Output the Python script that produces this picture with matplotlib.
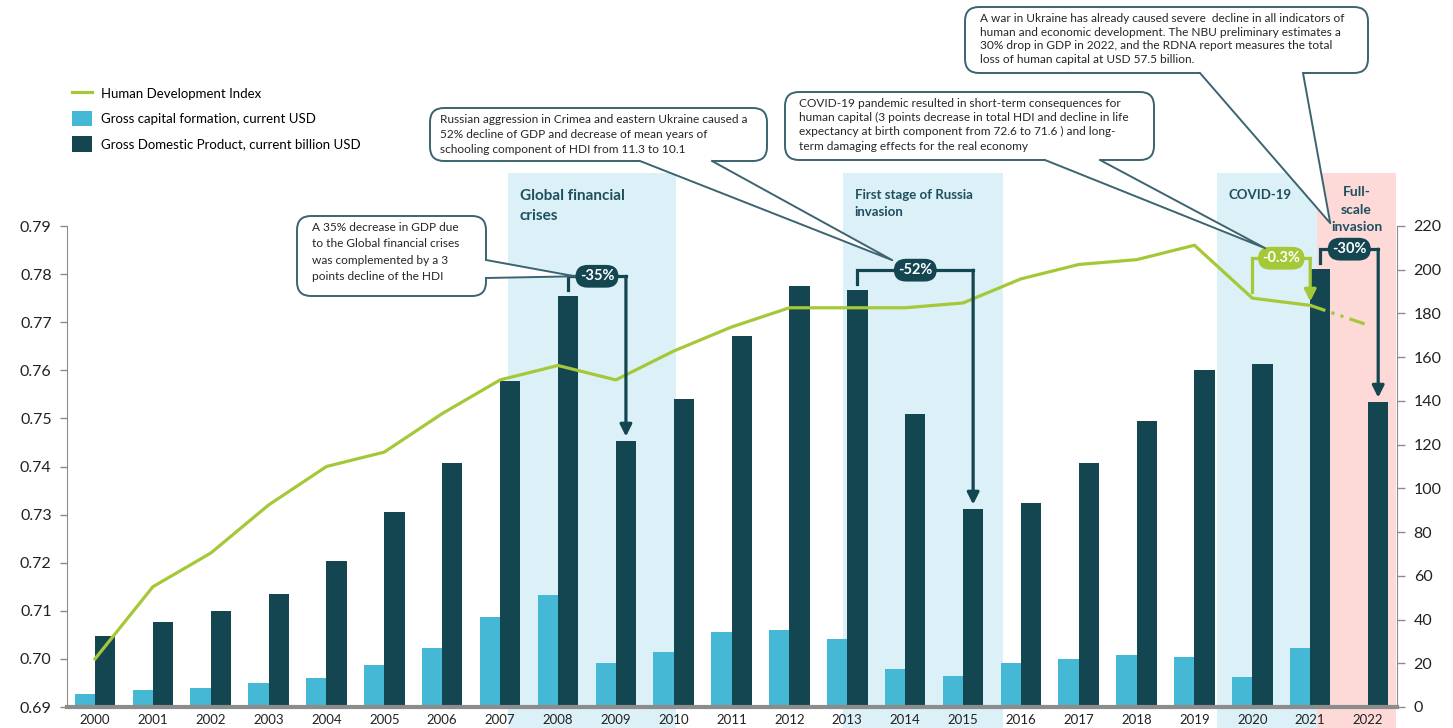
import numpy as np
import matplotlib
matplotlib.use("Agg")
import matplotlib.pyplot as plt
from matplotlib.patches import Rectangle, FancyBboxPatch, Polygon, Patch
from matplotlib.lines import Line2D
from matplotlib.transforms import blended_transform_factory, IdentityTransform

plt.rcParams['font.family'] = ['Lato', 'DejaVu Sans']

# ---- data ----
years = list(range(2000, 2023))
hdi = [0.700, 0.715, 0.722, 0.732, 0.740, 0.743, 0.751, 0.758, 0.761, 0.758,
       0.764, 0.769, 0.773, 0.773, 0.773, 0.774, 0.779, 0.782, 0.783, 0.786,
       0.775, 0.7735]
hdi_2022_est = 0.7694
gcf = [5.9, 7.8, 8.7, 11.0, 13.3, 19.2, 27.0, 41.2, 51.2, 20.1, 25.2, 34.3,
       35.2, 31.1, 17.4, 14.2, 20.1, 22.0, 23.8, 22.9, 13.7, 27.0, np.nan]
gdp = [32.5, 38.9, 43.9, 51.7, 66.8, 89.2, 111.6, 149.1, 188.0, 121.7, 140.9,
       169.7, 192.5, 190.8, 134.0, 90.6, 93.3, 111.6, 130.8, 154.2, 156.9,
       200.4, 139.5]

# shaded periods: label, start, end (in year units)
periods = [
    ("Global financial\ncrises", 2007.14, 2010.04),
    ("First stage of Russia\ninvasion", 2012.93, 2015.69),
    ("COVID-19", 2019.39, 2021.11),
    ("Full-\nscale\ninvasion", 2021.11, 2022.49),
]
# GDP drops and HDI drop
gdp_drops = [("-35%", 2008, 2009), ("-52%", 2013, 2015), ("-30%", 2021, 2022)]
hdi_drop = ("-0.3%", 2020, 2021)

notes = [
    "A 35% decrease in GDP due\nto the Global financial crises\nwas complemented by a 3\npoints decline of the HDI",
    "Russian aggression in Crimea and eastern Ukraine caused a\n52% decline of GDP and decrease of mean years of\nschooling component of HDI from 11.3 to 10.1",
    "COVID-19 pandemic resulted in short-term consequences for\nhuman capital (3 points decrease in total HDI and decline in life\nexpectancy at birth component from 72.6 to 71.6 ) and long-\nterm damaging effects for the real economy",
    "A war in Ukraine has already caused severe  decline in all indicators of\nhuman and economic development. The NBU preliminary estimates a\n30% drop in GDP in 2022, and the RDNA report measures the total\nloss of human capital at USD 57.5 billion.",
]

GREEN = '#a5c838'
LIGHT = '#45b8d6'
DARK = '#144652'
SHADE = '#dbf0f7'
PINK = '#fdd9d7'
TXT = '#1f4f5e'
EDGE = '#3b6470'
W, H = 1453, 728

fig = plt.figure(figsize=(W / 100, H / 100), dpi=100)
ax = fig.add_axes([67 / W, 1 - 707 / H, (1397 - 67) / W, (707 - 226) / H])
axb = ax.twinx()
ax.set_zorder(2)
axb.set_zorder(1)
ax.patch.set_visible(False)

x = np.arange(len(years)) + years[0]
bw = 0.35
axb.bar(x - bw / 2, gcf, bw, color=LIGHT, zorder=2)
axb.bar(x + bw / 2, gdp, bw, color=DARK, zorder=2)

ax.plot(x[:len(hdi)], hdi, color=GREEN, lw=2.3, zorder=3)
ax.plot([x[len(hdi) - 1], x[-1]], [hdi[-1], hdi_2022_est], color=GREEN, lw=2.3,
        ls=(0, (5, 2, 1, 2, 1, 2)), zorder=3)

ax.set_xlim(years[0] - 0.484, years[-1] + 0.50)
ax.set_ylim(0.69, 0.79)
axb.set_ylim(0, 220)
ax.set_yticks(np.arange(0.69, 0.7901, 0.01))
ax.set_yticklabels([f"{v:.2f}" for v in np.arange(0.69, 0.7901, 0.01)])
axb.set_yticks(range(0, 221, 20))
ax.set_xticks(x)
ax.set_xticklabels([str(y) for y in years], fontsize=9.5, color='#222222')
ax.tick_params(axis='x', length=0, pad=5)
ax.tick_params(axis='y', labelsize=11.5, colors='#222222', length=5, width=1, pad=6)
axb.tick_params(axis='y', labelsize=11.5, colors='#222222', length=6, width=1, pad=6)
for a in (ax, axb):
    a.tick_params(axis='y', color='#8c8c8c')
    a.spines['top'].set_visible(False)
ax.spines['right'].set_visible(False)
ax.spines['left'].set_color('#8c8c8c')
ax.spines['bottom'].set_color('#8c8c8c')
ax.spines['bottom'].set_linewidth(3)
axb.spines['left'].set_visible(False)
axb.spines['bottom'].set_visible(False)
axb.spines['right'].set_color('#8c8c8c')

# shaded periods
tr_span = blended_transform_factory(axb.transData, axb.transAxes)
tr_lab = blended_transform_factory(ax.transData, ax.transAxes)
lab_size = [11, 9.5, 9.5, 10]
lab_y = [1.076, 1.076, 1.076, 1.083]
for i, (lab, s, e) in enumerate(periods):
    axb.add_patch(Rectangle((s, -0.045), e - s, 1.155, transform=tr_span,
                            fc=PINK if i == 3 else SHADE, ec='none', zorder=0, clip_on=False))
    if i == 3:
        ax.text((s + e) / 2, lab_y[i], lab, transform=tr_lab, ha='center', va='top',
                fontsize=lab_size[i], fontweight='bold', color=TXT, linespacing=1.55)
    else:
        ax.text(s + 0.2, lab_y[i], lab, transform=tr_lab, ha='left', va='top',
                fontsize=lab_size[i], fontweight='bold', color=TXT, linespacing=1.5)

# drop brackets
def bracket(axis_tr, xa, xb, top, start, tip, color, label):
    ax.plot([xa, xa, xb], [start, top, top], color=color, lw=2.3, transform=axis_tr,
            clip_on=False, zorder=5, solid_joinstyle='miter')
    ax.annotate('', xy=(xb, tip), xytext=(xb, top), xycoords=axis_tr, textcoords=axis_tr,
                arrowprops=dict(arrowstyle='-|>,head_length=0.7,head_width=0.35', color=color,
                                lw=2.3, shrinkA=0, shrinkB=0), zorder=5, annotation_clip=False)
    ax.text((xa + xb) / 2, top, label, transform=axis_tr, ha='center', va='center',
            fontsize=10.5, fontweight='bold', color='white', zorder=6, clip_on=False,
            bbox=dict(boxstyle='round,pad=0.3,rounding_size=0.85', fc=color, ec='none'))
    return (xa + xb) / 2, top

badge_pos = []
for lab, y1, y2 in gdp_drops:
    i1, i2 = years.index(y1), years.index(y2)
    badge_pos.append(bracket(axb.transData, y1 + bw / 2, y2 + bw / 2,
                             gdp[i1] + 9, gdp[i1] + 2.5, gdp[i2] + 2, DARK, lab))
lab, y1, y2 = hdi_drop
i1, i2 = years.index(y1), years.index(y2)
hdi_badge = bracket(ax.transData, y1, y2, hdi[i1] + 0.0083, hdi[i1] + 0.0013,
                    hdi[i2] + 0.0008, GREEN, lab)

# callouts (pixel layout, origin top-left)
tr = IdentityTransform()

def callout(x0, y0, x1, y1, b1, b2, inward, tip, text, lsp, tx):
    fig.add_artist(FancyBboxPatch((x0, H - y1), x1 - x0, y1 - y0,
                                  boxstyle='round,pad=0,rounding_size=14', fc='white',
                                  ec=EDGE, lw=1.4, transform=tr, zorder=10))
    p1 = (b1[0], H - b1[1])
    p2 = (b2[0], H - b2[1])
    q1 = (p1[0] + inward[0] * 4, p1[1] - inward[1] * 4)
    q2 = (p2[0] + inward[0] * 4, p2[1] - inward[1] * 4)
    fig.add_artist(Polygon([q1, p1, tip, p2, q2], closed=True, fc='white', ec='none',
                           transform=tr, zorder=11))
    fig.add_artist(Line2D([p1[0], tip[0], p2[0]], [p1[1], tip[1], p2[1]], color=EDGE,
                          lw=1.4, transform=tr, zorder=12))
    fig.text(x0 + tx, H - y0 - 6, text, transform=tr, ha='left', va='top', fontsize=8.6,
             color='#262626', linespacing=lsp, zorder=13)

def tip_at(trans, pt, dx, dy):
    px = trans.transform(pt)
    return (px[0] + dx, px[1] + dy)

t1 = tip_at(axb.transData, badge_pos[0], -22, 0)
t2 = tip_at(axb.transData, badge_pos[1], -23, 10)
t3 = tip_at(ax.transData, hdi_badge, -16, 10)
t4 = tip_at(axb.transData, badge_pos[2], -19, 26)
callout(297, 216, 486, 296, (486, 260), (486, 278), (-1, 0), t1, notes[0], 1.6, 15)
callout(430, 108, 767, 161, (640, 161), (712, 161), (0, -1), t2, notes[1], 1.43, 10)
callout(785, 92, 1154, 160, (1045, 160), (1100, 160), (0, -1), t3, notes[2], 1.35, 14)
callout(965, 7, 1368, 73, (1200, 73), (1303, 73), (0, -1), t4, notes[3], 1.28, 15)

# legend
handles = [Line2D([], [], color=GREEN, lw=2.3),
           Patch(fc=LIGHT, ec='none'),
           Patch(fc=DARK, ec='none')]
labels = ["Human Development Index", "Gross capital formation, current USD",
          "Gross Domestic Product, current billion USD"]
fig.legend(handles, labels, loc='upper left', bbox_to_anchor=(72 / W, 1 - 86 / H),
           frameon=False, fontsize=9.5, handlelength=1.55, handleheight=1.4,
           handletextpad=0.65, labelspacing=0.75, borderpad=0, borderaxespad=0)

fig.savefig("out.png", dpi=100)
